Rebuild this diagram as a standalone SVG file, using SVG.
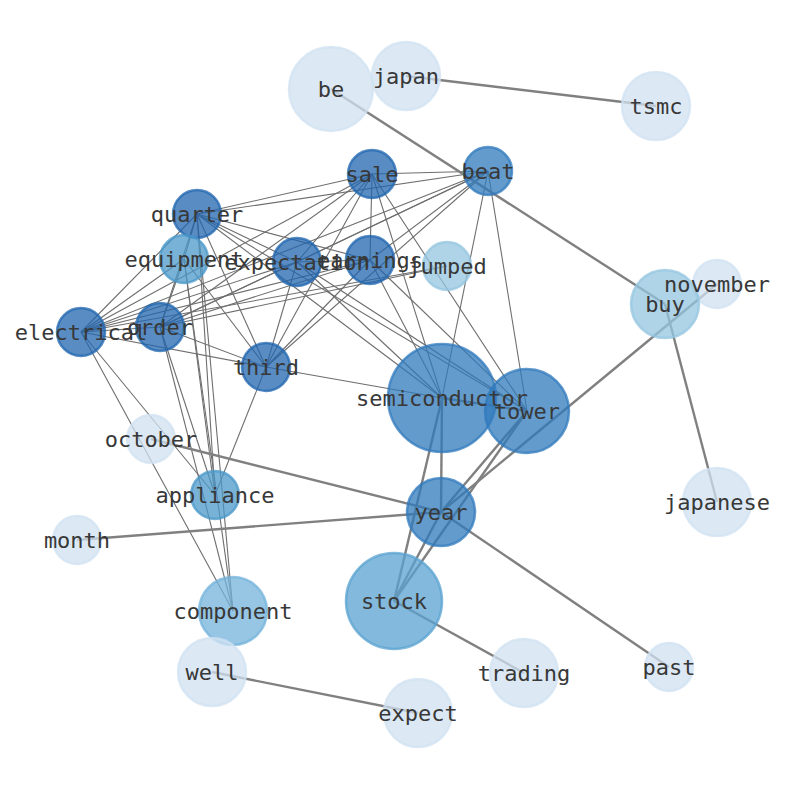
<svg xmlns="http://www.w3.org/2000/svg" width="794" height="790" viewBox="0 0 794 790">
<style>
.bg{fill:#ffffff}
.e1{stroke:#6e6e6e;stroke-width:1.1;fill:none}
.e2{stroke:#808080;stroke-width:2.4;fill:none}
.n circle{fill-opacity:0.75;stroke-opacity:0.75;stroke-width:2.5}
.c0 circle{fill:#d0e1f2;stroke:#d0e1f2}
.c1 circle{fill:#94c6e0;stroke:#94c6e0}
.c2 circle{fill:#73b3db;stroke:#73b3db}
.c3 circle{fill:#58a2d0;stroke:#58a2d0}
.c4 circle{fill:#4b98ca;stroke:#4b98ca}
.c5 circle{fill:#307abc;stroke:#307abc}
.c6 circle{fill:#2066af;stroke:#2066af}
text{font-family:"DejaVu Sans Mono","Liberation Mono",monospace;font-size:22px;fill:#383838;text-anchor:middle;dominant-baseline:central}
</style>
<rect class="bg" x="0" y="0" width="794" height="790"/>
<g id="connectors">
<line class="e1" x1="372" y1="174" x2="488" y2="171"/>
<line class="e1" x1="372" y1="174" x2="197" y2="214"/>
<line class="e1" x1="372" y1="174" x2="297" y2="262"/>
<line class="e1" x1="372" y1="174" x2="370" y2="260"/>
<line class="e1" x1="372" y1="174" x2="160" y2="327"/>
<line class="e1" x1="372" y1="174" x2="81" y2="332"/>
<line class="e1" x1="372" y1="174" x2="266" y2="367"/>
<line class="e1" x1="372" y1="174" x2="442" y2="398"/>
<line class="e1" x1="372" y1="174" x2="527" y2="411"/>
<line class="e1" x1="488" y1="171" x2="197" y2="214"/>
<line class="e1" x1="488" y1="171" x2="297" y2="262"/>
<line class="e1" x1="488" y1="171" x2="370" y2="260"/>
<line class="e1" x1="488" y1="171" x2="160" y2="327"/>
<line class="e1" x1="488" y1="171" x2="81" y2="332"/>
<line class="e1" x1="488" y1="171" x2="266" y2="367"/>
<line class="e1" x1="488" y1="171" x2="442" y2="398"/>
<line class="e1" x1="488" y1="171" x2="527" y2="411"/>
<line class="e1" x1="197" y1="214" x2="297" y2="262"/>
<line class="e1" x1="197" y1="214" x2="370" y2="260"/>
<line class="e1" x1="197" y1="214" x2="266" y2="367"/>
<line class="e1" x1="197" y1="214" x2="184" y2="259"/>
<line class="e1" x1="197" y1="214" x2="160" y2="327"/>
<line class="e1" x1="197" y1="214" x2="81" y2="332"/>
<line class="e1" x1="197" y1="214" x2="215" y2="495"/>
<line class="e1" x1="197" y1="214" x2="233" y2="611"/>
<line class="e1" x1="197" y1="214" x2="442" y2="398"/>
<line class="e1" x1="197" y1="214" x2="527" y2="411"/>
<line class="e1" x1="297" y1="262" x2="370" y2="260"/>
<line class="e1" x1="297" y1="262" x2="160" y2="327"/>
<line class="e1" x1="297" y1="262" x2="81" y2="332"/>
<line class="e1" x1="297" y1="262" x2="266" y2="367"/>
<line class="e1" x1="297" y1="262" x2="442" y2="398"/>
<line class="e1" x1="297" y1="262" x2="527" y2="411"/>
<line class="e1" x1="370" y1="260" x2="160" y2="327"/>
<line class="e1" x1="370" y1="260" x2="81" y2="332"/>
<line class="e1" x1="370" y1="260" x2="266" y2="367"/>
<line class="e1" x1="370" y1="260" x2="442" y2="398"/>
<line class="e1" x1="370" y1="260" x2="527" y2="411"/>
<line class="e1" x1="447" y1="266" x2="160" y2="327"/>
<line class="e1" x1="447" y1="266" x2="81" y2="332"/>
<line class="e1" x1="184" y1="259" x2="81" y2="332"/>
<line class="e1" x1="184" y1="259" x2="160" y2="327"/>
<line class="e1" x1="184" y1="259" x2="266" y2="367"/>
<line class="e1" x1="184" y1="259" x2="215" y2="495"/>
<line class="e1" x1="184" y1="259" x2="233" y2="611"/>
<line class="e1" x1="160" y1="327" x2="81" y2="332"/>
<line class="e1" x1="160" y1="327" x2="266" y2="367"/>
<line class="e1" x1="160" y1="327" x2="215" y2="495"/>
<line class="e1" x1="160" y1="327" x2="233" y2="611"/>
<line class="e1" x1="81" y1="332" x2="266" y2="367"/>
<line class="e1" x1="81" y1="332" x2="215" y2="495"/>
<line class="e1" x1="81" y1="332" x2="233" y2="611"/>
<line class="e1" x1="266" y1="367" x2="215" y2="495"/>
<line class="e1" x1="266" y1="367" x2="442" y2="398"/>
<line class="e2" x1="331" y1="89" x2="665" y2="304"/>
<line class="e2" x1="406" y1="76" x2="656" y2="106"/>
<line class="e2" x1="665" y1="304" x2="717" y2="502"/>
<line class="e2" x1="717" y1="284" x2="441" y2="512"/>
<line class="e2" x1="151" y1="439" x2="441" y2="512"/>
<line class="e2" x1="77" y1="540" x2="441" y2="512"/>
<line class="e2" x1="441" y1="512" x2="669" y2="667"/>
<line class="e2" x1="441" y1="512" x2="442" y2="398"/>
<line class="e2" x1="441" y1="512" x2="527" y2="411"/>
<line class="e2" x1="441" y1="512" x2="394" y2="601"/>
<line class="e2" x1="394" y1="601" x2="442" y2="398"/>
<line class="e2" x1="394" y1="601" x2="527" y2="411"/>
<line class="e2" x1="394" y1="601" x2="524" y2="673"/>
<line class="e2" x1="212" y1="672" x2="418" y2="713"/>
<line class="e2" x1="442" y1="398" x2="527" y2="411"/>
</g>
<g id="nodes">
<g id="be" class="n c0"><circle cx="331" cy="89" r="42"/></g>
<g id="japan" class="n c0"><circle cx="406" cy="76" r="34"/></g>
<g id="tsmc" class="n c0"><circle cx="656" cy="106" r="34"/></g>
<g id="sale" class="n c6"><circle cx="372" cy="174" r="24"/></g>
<g id="beat" class="n c5"><circle cx="488" cy="171" r="24"/></g>
<g id="quarter" class="n c6"><circle cx="197" cy="214" r="24"/></g>
<g id="equipment" class="n c4"><circle cx="184" cy="259" r="24"/></g>
<g id="expectation" class="n c6"><circle cx="297" cy="262" r="24"/></g>
<g id="earnings" class="n c6"><circle cx="370" cy="260" r="24"/></g>
<g id="jumped" class="n c1"><circle cx="447" cy="266" r="24"/></g>
<g id="november" class="n c0"><circle cx="717" cy="284" r="24"/></g>
<g id="buy" class="n c1"><circle cx="665" cy="304" r="34"/></g>
<g id="electrical" class="n c6"><circle cx="81" cy="332" r="24"/></g>
<g id="order" class="n c6"><circle cx="160" cy="327" r="24"/></g>
<g id="third" class="n c6"><circle cx="266" cy="367" r="24"/></g>
<g id="semiconductor" class="n c5"><circle cx="442" cy="398" r="54"/></g>
<g id="tower" class="n c5"><circle cx="527" cy="411" r="42"/></g>
<g id="october" class="n c0"><circle cx="151" cy="439" r="24"/></g>
<g id="appliance" class="n c4"><circle cx="215" cy="495" r="24"/></g>
<g id="year" class="n c5"><circle cx="441" cy="512" r="34"/></g>
<g id="japanese" class="n c0"><circle cx="717" cy="502" r="34"/></g>
<g id="month" class="n c0"><circle cx="77" cy="540" r="24"/></g>
<g id="stock" class="n c3"><circle cx="394" cy="601" r="48"/></g>
<g id="component" class="n c2"><circle cx="233" cy="611" r="34"/></g>
<g id="well" class="n c0"><circle cx="212" cy="672" r="34"/></g>
<g id="trading" class="n c0"><circle cx="524" cy="673" r="34"/></g>
<g id="past" class="n c0"><circle cx="669" cy="667" r="24"/></g>
<g id="expect" class="n c0"><circle cx="418" cy="713" r="34"/></g>
</g>
<g id="labels">
<text id="be-label" x="331" y="89">be</text>
<text id="japan-label" x="406" y="76">japan</text>
<text id="tsmc-label" x="656" y="106">tsmc</text>
<text id="sale-label" x="372" y="174">sale</text>
<text id="beat-label" x="488" y="171">beat</text>
<text id="quarter-label" x="197" y="214">quarter</text>
<text id="equipment-label" x="184" y="259">equipment</text>
<text id="expectation-label" x="297" y="262">expectation</text>
<text id="earnings-label" x="370" y="260">earnings</text>
<text id="jumped-label" x="447" y="266">jumped</text>
<text id="november-label" x="717" y="284">november</text>
<text id="buy-label" x="665" y="304">buy</text>
<text id="electrical-label" x="81" y="332">electrical</text>
<text id="order-label" x="160" y="327">order</text>
<text id="third-label" x="266" y="367">third</text>
<text id="semiconductor-label" x="442" y="398">semiconductor</text>
<text id="tower-label" x="527" y="411">tower</text>
<text id="october-label" x="151" y="439">october</text>
<text id="appliance-label" x="215" y="495">appliance</text>
<text id="year-label" x="441" y="512">year</text>
<text id="japanese-label" x="717" y="502">japanese</text>
<text id="month-label" x="77" y="540">month</text>
<text id="stock-label" x="394" y="601">stock</text>
<text id="component-label" x="233" y="611">component</text>
<text id="well-label" x="212" y="672">well</text>
<text id="trading-label" x="524" y="673">trading</text>
<text id="past-label" x="669" y="667">past</text>
<text id="expect-label" x="418" y="713">expect</text>
</g>
</svg>
